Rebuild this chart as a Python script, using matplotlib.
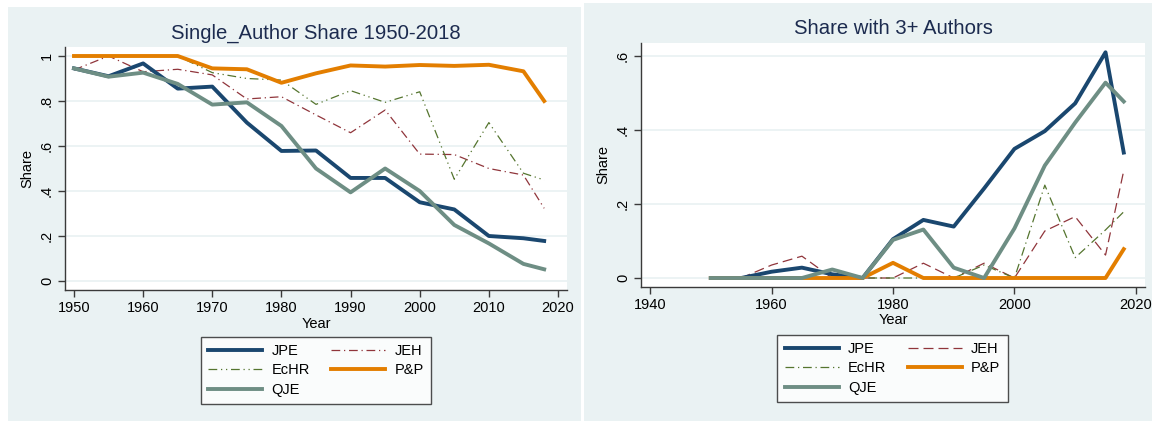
import matplotlib
matplotlib.use("Agg")
import matplotlib.pyplot as plt
from matplotlib.patches import Rectangle
from matplotlib.lines import Line2D

plt.rcParams['font.family'] = ['Liberation Sans', 'DejaVu Sans']

# ---------------- data ----------------
years = [1950, 1955, 1960, 1965, 1970, 1975, 1980, 1985, 1990, 1995, 2000, 2005, 2010, 2015, 2018]

# Single-author share
single_jpe = [0.945, 0.91, 0.967, 0.855, 0.864, 0.704, 0.578, 0.58, 0.458, 0.458, 0.35, 0.318, 0.2, 0.19, 0.178]
single_jeh = [0.938, 1.0, 0.93, 0.941, 0.916, 0.809, 0.819, 0.738, 0.659, 0.76, 0.564, 0.562, 0.5, 0.471, 0.323]
single_echr = [1.0, 1.0, 1.0, 1.0, 0.926, 0.9, 0.893, 0.785, 0.846, 0.794, 0.841, 0.452, 0.704, 0.479, 0.449]
single_pp = [1.0, 1.0, 1.0, 1.0, 0.945, 0.941, 0.881, 0.923, 0.958, 0.953, 0.96, 0.956, 0.961, 0.932, 0.8]
single_qje = [0.945, 0.908, 0.926, 0.876, 0.784, 0.794, 0.689, 0.5, 0.394, 0.5, 0.4, 0.249, 0.167, 0.076, 0.052]

# Share with 3+ authors
three_jpe = [0.0, 0.0, 0.017, 0.028, 0.01, 0.0, 0.105, 0.157, 0.139, 0.242, 0.349, 0.397, 0.472, 0.61, 0.339]
three_jeh = [0.0, 0.0, 0.035, 0.059, 0.0, 0.0, 0.0, 0.04, 0.0, 0.04, 0.0, 0.127, 0.166, 0.062, 0.29]
three_echr = [0.0, 0.0, 0.0, 0.0, 0.0, 0.0, 0.0, 0.0, 0.0, 0.035, 0.0, 0.251, 0.055, 0.13, 0.179]
three_pp = [0.0, 0.0, 0.0, 0.0, 0.0, 0.0, 0.041, 0.0, 0.0, 0.0, 0.0, 0.0, 0.0, 0.0, 0.078]
three_qje = [0.0, 0.0, 0.0, 0.0, 0.023, 0.0, 0.103, 0.131, 0.028, 0.0, 0.134, 0.304, 0.42, 0.528, 0.477]

left_yticks = [0, 0.2, 0.4, 0.6, 0.8, 1.0]
left_yticklabels = ['0', '.2', '.4', '.6', '.8', '1']
left_xticks = [1950, 1960, 1970, 1980, 1990, 2000, 2010, 2020]
right_yticks = [0, 0.2, 0.4, 0.6]
right_yticklabels = ['0', '.2', '.4', '.6']
right_xticks = [1940, 1960, 1980, 2000, 2020]

# ---------------- style ----------------
C_JPE = '#1a476f'
C_JEH = '#90353b'
C_ECHR = '#55752f'
C_PP = '#e37e00'
C_QJE = '#6e8e84'
BG = '#eaf2f3'
TITLE_C = '#1c2b4f'
AX_C = '#3a3a3a'
FS = 10.5

W, H = 1152, 421
fig = plt.figure(figsize=(W / 100, H / 100), dpi=100)
fig.patch.set_facecolor('white')

def fx(px):
    return px / W

def fy(py):
    return 1 - py / H

# panel backgrounds
fig.add_artist(Rectangle((fx(8), fy(421)), fx(581 - 8), (421 - 7) / H,
                         transform=fig.transFigure, facecolor=BG, edgecolor='none', zorder=-10))
fig.add_artist(Rectangle((fx(584), fy(421)), fx(1152 - 584), (421 - 3) / H,
                         transform=fig.transFigure, facecolor=BG, edgecolor='none', zorder=-10))

THICK = 2.8
THIN = 0.9

def style_axes(ax, xlim, ylim, xticks, yticks, yticklabels):
    ax.set_facecolor('white')
    ax.set_xlim(*xlim)
    ax.set_ylim(*ylim)
    ax.set_xticks(xticks)
    ax.set_yticks(yticks)
    ax.set_yticklabels(yticklabels, rotation=90, va='center')
    for s in ['top', 'right']:
        ax.spines[s].set_visible(False)
    for s in ['left', 'bottom']:
        ax.spines[s].set_color(AX_C)
        ax.spines[s].set_linewidth(1.0)
    ax.tick_params(axis='both', direction='out', length=5, width=1.0, color=AX_C,
                   labelsize=FS, labelcolor='black', pad=3)
    ax.yaxis.grid(True, color=BG, linewidth=1.3)
    ax.set_axisbelow(True)
    ax.set_xlabel('Year', fontsize=FS, labelpad=1)
    ax.set_ylabel('Share', fontsize=FS, labelpad=4)

dashdot = (0, (7, 3, 1, 3))
dashdotdot = (0, (7, 3, 1, 3, 1, 3))

# ---------- left panel ----------
axL = fig.add_axes([fx(65), fy(290), fx(567 - 65), (290 - 47) / H])
style_axes(axL, (1948.7, 2021.3), (-0.04, 1.04), left_xticks, left_yticks, left_yticklabels)
axL.plot(years, single_jeh, color=C_JEH, lw=THIN, linestyle=dashdot, zorder=3)
axL.plot(years, single_echr, color=C_ECHR, lw=THIN, linestyle=dashdotdot, zorder=3)
axL.plot(years, single_jpe, color=C_JPE, lw=THICK, zorder=3.5)
axL.plot(years, single_pp, color=C_PP, lw=THICK, zorder=4)
axL.plot(years, single_qje, color=C_QJE, lw=THICK, zorder=4)
fig.text(fx(316), fy(33), 'Single_Author Share 1950-2018', ha='center', va='center',
         fontsize=14.6, color=TITLE_C)

# ---------- right panel ----------
axR = fig.add_axes([fx(641), fy(287), fx(1145 - 641), (287 - 43) / H])
style_axes(axR, (1938.5, 2021.5), (-0.0243, 0.6351), right_xticks, right_yticks, right_yticklabels)
axR.plot(years, three_jpe, color=C_JPE, lw=THICK, zorder=3.5)
axR.plot(years, three_jeh, color=C_JEH, lw=THIN, linestyle=(0, (8, 4)), zorder=3)
axR.plot(years, three_echr, color=C_ECHR, lw=THIN, linestyle=dashdot, zorder=3)
axR.plot(years, three_pp, color=C_PP, lw=THICK, zorder=4)
axR.plot(years, three_qje, color=C_QJE, lw=THICK, zorder=4)
fig.text(fx(893), fy(29), 'Share with 3+ Authors', ha='center', va='center',
         fontsize=14.6, color=TITLE_C)

# ---------- legends ----------
def make_legend(center_x, center_y, jeh_style, echr_style):
    handles = [
        Line2D([], [], color=C_JPE, lw=THICK),
        Line2D([], [], color=C_ECHR, lw=THIN, linestyle=echr_style),
        Line2D([], [], color=C_QJE, lw=THICK),
        Line2D([], [], color=C_JEH, lw=THIN, linestyle=jeh_style),
        Line2D([], [], color=C_PP, lw=THICK),
    ]
    labels = ['JPE', 'EcHR', 'QJE', 'JEH', 'P&P']
    leg = fig.legend(handles, labels, ncol=2, loc='center',
                     bbox_to_anchor=(fx(center_x), fy(center_y)),
                     bbox_transform=fig.transFigure, fontsize=FS,
                     frameon=True, fancybox=False, edgecolor='#222222',
                     handlelength=3.7, handletextpad=0.65, columnspacing=1.45,
                     labelspacing=0.38, borderpad=0.5, borderaxespad=0)
    leg.get_frame().set_linewidth(1.0)
    leg.get_frame().set_facecolor('white')
    return leg

make_legend(316, 370.5, dashdot, dashdotdot)
make_legend(892.5, 368.5, (0, (8, 4)), dashdot)

fig.savefig('out.png', dpi=100, facecolor='white')
